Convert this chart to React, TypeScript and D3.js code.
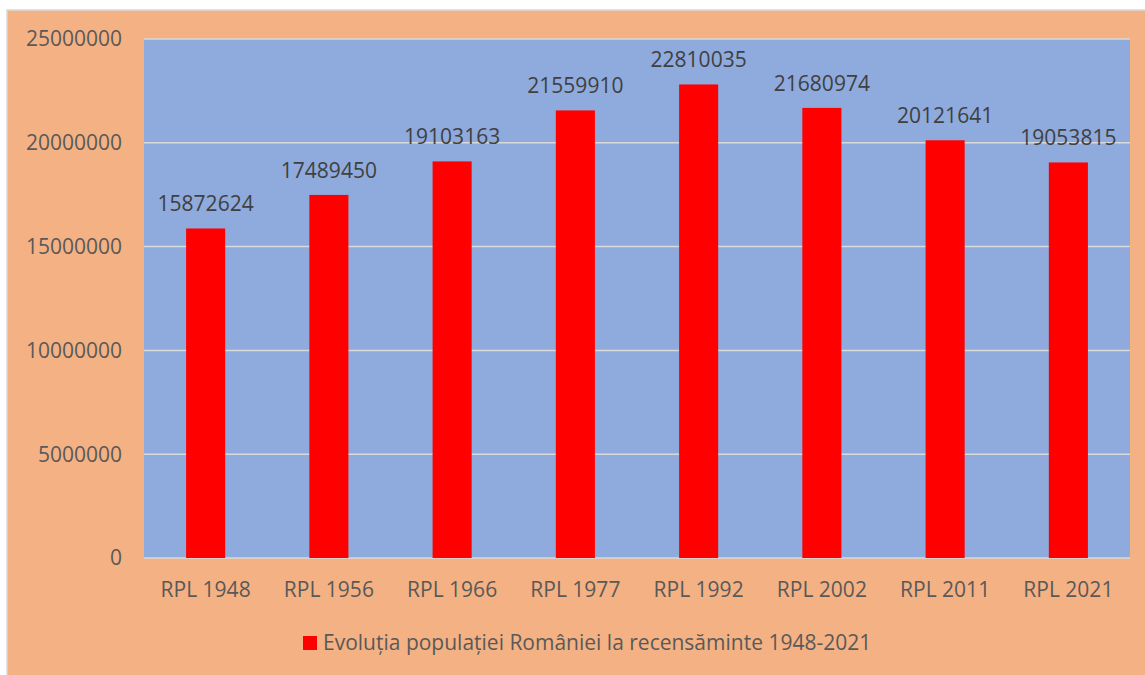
import React from "react";
import * as d3 from "d3";

const categories = ["RPL 1948", "RPL 1956", "RPL 1966", "RPL 1977", "RPL 1992", "RPL 2002", "RPL 2011", "RPL 2021"];
const values = [15872624, 17489450, 19103163, 21559910, 22810035, 21680974, 20121641, 19053815];
const yTicks = [0, 5000000, 10000000, 15000000, 20000000, 25000000];
const seriesName = "Evoluția populației României la recensăminte 1948-2021";

const W = 1145;
const H = 675;
const plot = { left: 144, right: 1130, top: 39, bottom: 558 };
const font = "'Open Sans', sans-serif";
const fs = 21;

export default function App() {
  const x = d3.scaleBand<string>().domain(categories).range([plot.left, plot.right]).paddingInner(0.683).paddingOuter(0.3415);
  const y = d3.scaleLinear().domain([0, 25000000]).range([plot.bottom, plot.top]);

  return (
    <svg width={W} height={H} style={{ position: "absolute", left: 0, top: 0, display: "block" }}>
      <rect x={0} y={0} width={W} height={H} fill="#ffffff" />
      <rect x={7} y={10} width={W + 10} height={H + 10} fill="#F4B183" stroke="#D9D9D9" strokeWidth={1.5} />
      <rect x={plot.left} y={plot.top} width={plot.right - plot.left} height={plot.bottom - plot.top} fill="#8FAADC" />
      {yTicks.map((t) => (
        <g key={t}>
          <line x1={plot.left} x2={plot.right} y1={y(t)} y2={y(t)} stroke="#D9D9D9" strokeWidth={1.5} />
          <text x={122} y={y(t)} dy="0.35em" textAnchor="end" fontFamily={font} fontSize={fs} fill="#595959">
            {t}
          </text>
        </g>
      ))}
      {categories.map((c, i) => (
        <g key={c}>
          <rect x={x(c)} y={y(values[i])} width={x.bandwidth()} height={y(0) - y(values[i])} fill="#FF0000" />
          <text x={(x(c) as number) + x.bandwidth() / 2} y={y(values[i]) - 17} textAnchor="middle" fontFamily={font} fontSize={fs} fill="#404040">
            {values[i]}
          </text>
          <text x={(x(c) as number) + x.bandwidth() / 2} y={597} textAnchor="middle" fontFamily={font} fontSize={fs} fill="#595959">
            {c}
          </text>
        </g>
      ))}
      <rect x={303} y={636} width={14} height={14} fill="#FF0000" />
      <text x={323} y={650} fontFamily={font} fontSize={fs} fill="#595959">
        {seriesName}
      </text>
    </svg>
  );
}
